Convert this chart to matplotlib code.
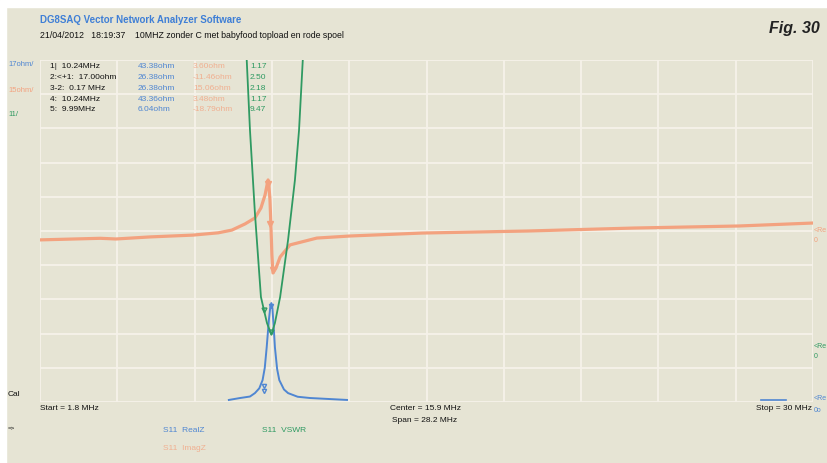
import numpy as np
import matplotlib
matplotlib.use("Agg")
import matplotlib.pyplot as plt
from matplotlib.patches import Rectangle

plt.rcParams['font.family'] = ['Liberation Sans', 'DejaVu Sans']

# sweep
f_start, f_stop = 1.8, 30.0

# S11 Real Z (ohm), 15 ohm/div from bottom
re_f = [8.69, 9.10, 9.46, 9.64, 9.80, 9.92, 10.00, 10.07, 10.15, 10.20, 10.24,
        10.28, 10.33, 10.37, 10.45, 10.53, 10.70, 10.85, 11.20, 11.65, 13.0]
re_z = [0.9, 1.75, 2.4, 3.9, 6.0, 9.6, 15.0, 24.0, 36.0, 41.5, 43.4,
        41.0, 32.0, 24.0, 14.5, 9.6, 5.5, 3.9, 2.3, 1.75, 0.9]
re_tail_f = [28.12, 29.0]
re_tail_z = [0.9, 0.9]

# S11 Imag Z (ohm), 15 ohm/div, zero on centre line
im_f = [1.8, 4.0, 4.57, 5.81, 7.38, 8.30, 8.80, 9.28, 9.64, 9.86, 10.01, 10.12,
        10.15, 10.19, 10.23, 10.26, 10.30, 10.41, 10.56, 10.92, 11.9, 13.1,
        15.74, 19.6, 23.47, 27.3, 30.0]
im_z = [-3.9, -3.2, -3.5, -2.6, -1.8, -0.8, 0.4, 3.1, 5.7, 10.1, 15.8, 22.4,
        20.0, 13.6, 0.4, -10.5, -18.4, -16.2, -11.4, -6.1, -3.1, -2.2,
        -0.9, 0.0, 1.3, 2.2, 3.5]

# S11 VSWR, 1/div
sw_f = [9.33, 9.46, 9.64, 9.86, 10.08, 10.24, 10.37, 10.56, 10.85, 11.10, 11.25, 11.40]
sw_v = [9.4, 7.15, 4.73, 2.27, 1.51, 1.17, 1.51, 2.27, 3.94, 5.69, 7.15, 9.4]

# marker symbols on the traces
mk_re_f = [9.99, 9.99, 10.24]
mk_re_z = [4.8, 6.8, 42.0]
mk_im_f = [10.12, 10.20, 10.30]
mk_im_z = [20.5, 3.0, -17.0]
mk_sw_f = [9.99, 10.24]
mk_sw_v = [1.9, 1.25]

# marker table
mk_rows = ["1|  10.24MHz", "2:<+1:  17.00ohm", "3-2:  0.17 MHz", "4:  10.24MHz", "5:  9.99MHz"]
mk_re = ["43.38ohm", "26.38ohm", "26.38ohm", "43.36ohm", "6.04ohm"]
mk_im = ["3.60ohm", "-11.46ohm", "15.06ohm", "3.48ohm", "-18.79ohm"]
mk_sw = ["1.17", "2.50", "2.18", "1.17", "9.47"]

BG = "#e6e4d4"
GRID = "#f6f2ea"
BLUE = "#4f86d2"
ORANGE = "#f3a27f"
GREEN = "#2f9a62"
FS = 6.0

W, H = 828, 463
fig = plt.figure(figsize=(W / 100, H / 100), dpi=100, facecolor=BG)
fig.patches.append(Rectangle((0, 1 - 7 / H), 1, 7 / H, transform=fig.transFigure,
                             color="white", zorder=0))
fig.patches.append(Rectangle((0, 0), 6 / W, 1, transform=fig.transFigure,
                             color="white", zorder=0))


def px(x, y):
    return x / W, 1 - y / H


ax = fig.add_axes([40 / W, 1 - 402 / H, 773 / W, 342 / H])
ax.set_facecolor(BG)
ax.set_xlim(f_start, f_stop)
ax.set_ylim(0, 10)
ax.set_xticks(np.linspace(f_start, f_stop, 11))
ax.set_yticks(np.arange(0, 11))
ax.grid(True, color=GRID, lw=1.3)
ax.tick_params(length=0, labelbottom=False, labelleft=False)
for s in ax.spines.values():
    s.set_visible(False)


def twin(lo, hi):
    t = ax.twinx()
    t.set_ylim(lo, hi)
    t.set_yticks([])
    for s in t.spines.values():
        s.set_visible(False)
    return t


ax_im = twin(-75, 75)
ax_re = twin(0, 150)
ax_sw = twin(-0.8, 9.2)

ax_im.plot(im_f, im_z, color=ORANGE, lw=2.3, solid_capstyle="round")
ax_im.plot(mk_im_f, mk_im_z, ls="none", marker="v", ms=4, color=ORANGE)
ax_re.plot(re_f, re_z, color=BLUE, lw=1.4)
ax_re.plot(re_tail_f, re_tail_z, color=BLUE, lw=1.2)
ax_re.plot(mk_re_f, mk_re_z, ls="none", marker="v", ms=3, mfc="none", color=BLUE)
ax_sw.plot(sw_f, sw_v, color=GREEN, lw=1.3)
ax_sw.plot(mk_sw_f, mk_sw_v, ls="none", marker="v", ms=3.5, mfc="none", color=GREEN)

# header
fig.text(*px(40, 20), "DG8SAQ Vector Network Analyzer Software", color="#3f7fd6",
         fontsize=7.0, fontweight="bold", va="center")
fig.text(*px(40, 36), "21/04/2012   18:19:37    10MHZ zonder C met babyfood topload en rode spoel",
         color="#111111", fontsize=6.3, va="center")
fig.text(*px(820, 28), "Fig. 30", color="#222222", fontsize=11.5, fontweight="bold",
         style="italic", ha="right", va="center")

# scale labels left
fig.text(*px(8, 65), "17ohm/", color=BLUE, fontsize=5.5, va="center")
fig.text(*px(8, 90), "15ohm/", color=ORANGE, fontsize=5.5, va="center")
fig.text(*px(8, 115), "11/", color=GREEN, fontsize=5.5, va="center")
fig.text(*px(8, 394), "Cal", color="#111111", fontsize=FS, va="center")
fig.text(*px(8, 428), "=>", color="#111111", fontsize=4.5, va="center")

# marker table
for i in range(len(mk_rows)):
    y = 67 + i * 10.7
    fig.text(*px(50, y), mk_rows[i], color="#111111", fontsize=FS, va="center")
    fig.text(*px(138, y), mk_re[i], color=BLUE, fontsize=FS, va="center")
    fig.text(*px(193, y), mk_im[i], color=ORANGE, fontsize=FS, va="center", alpha=0.8)
    fig.text(*px(250, y), mk_sw[i], color=GREEN, fontsize=FS, va="center")

# sweep labels
fig.text(*px(40, 409), "Start = 1.8 MHz", color="#111111", fontsize=FS, va="center")
fig.text(*px(390, 409), "Center = 15.9 MHz", color="#111111", fontsize=FS, va="center")
fig.text(*px(392, 420), "Span = 28.2 MHz", color="#111111", fontsize=FS, va="center")
fig.text(*px(812, 409), "Stop = 30 MHz", color="#111111", fontsize=FS, va="center", ha="right")

# trace names
fig.text(*px(163, 430), "S11  RealZ", color=BLUE, fontsize=FS, va="center")
fig.text(*px(262, 430), "S11  VSWR", color=GREEN, fontsize=FS, va="center")
fig.text(*px(163, 449), "S11  ImagZ", color=ORANGE, fontsize=FS, va="center", alpha=0.8)

# reference marks at the right edge
fig.text(*px(814, 230), "<Re", color=ORANGE, fontsize=5, va="center")
fig.text(*px(814, 240), "0", color=ORANGE, fontsize=5, va="center")
fig.text(*px(814, 346), "<Re", color=GREEN, fontsize=5, va="center")
fig.text(*px(814, 357), "0", color=GREEN, fontsize=5, va="center")
fig.text(*px(814, 399), "<Re", color=BLUE, fontsize=5, va="center")
fig.text(*px(814, 410), "0o", color=BLUE, fontsize=5, va="center")

fig.savefig("out.png", dpi=100, facecolor=BG)
